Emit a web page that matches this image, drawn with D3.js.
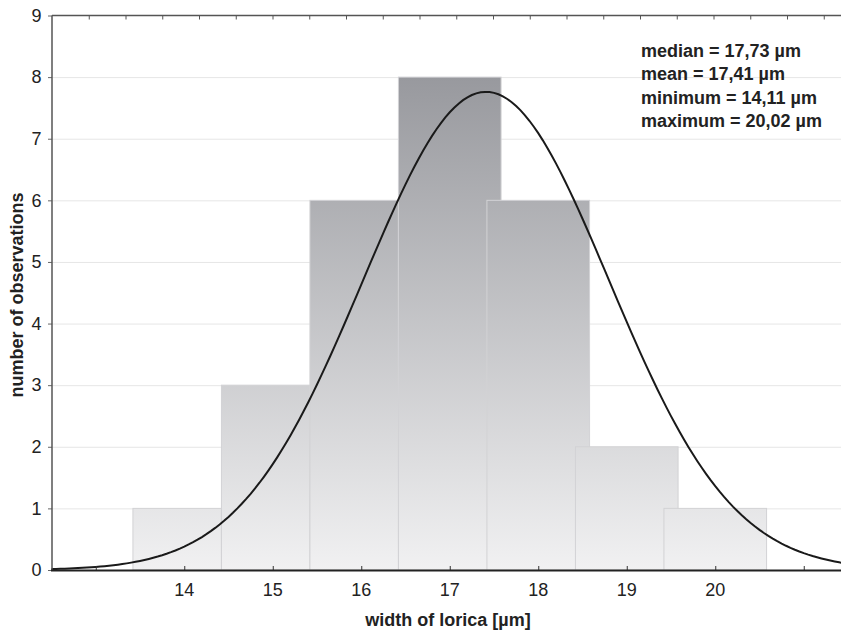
<!DOCTYPE html>
<html>
<head>
<meta charset="utf-8">
<script src="https://cdn.jsdelivr.net/npm/d3@7"></script>
<style>
  body { margin: 0; background: #fff; }
  text { font-family: "Liberation Sans", Arial, sans-serif; fill: #222; }
</style>
</head>
<body>
<script>
// histogram bins (µm) and counts
var binStart = [13.42, 14.42, 15.42, 16.42, 17.42, 18.42, 19.42];
var binEnd   = [14.42, 15.42, 16.42, 17.58, 18.58, 19.58, 20.58];
var counts   = [1, 3, 6, 8, 6, 2, 1];

var xTicks = [13, 14, 15, 16, 17, 18, 19, 20, 21];
var xLabels = ["", "14", "15", "16", "17", "18", "19", "20", ""];
var yTicks = [0, 1, 2, 3, 4, 5, 6, 7, 8, 9];

// fitted normal curve
var fitMean = 17.41, fitSd = 1.388, fitN = 27;

var stats = [
  "median = 17,73 µm",
  "mean = 17,41 µm",
  "minimum = 14,11 µm",
  "maximum = 20,02 µm"
];

var width = 841,
    height = 635;

var x = d3.scaleLinear().domain([12.5, 21.5]).range([51.5, 848]);
var y = d3.scaleLinear().domain([0, 9]).range([570, 15.5]);
// top border carries its own evenly spaced ticks
var xTop = d3.scaleLinear().domain([0, 22]).range([52, 52 + 22 * 36.75]);

var svg = d3.select("body").append("svg")
    .attr("width", width)
    .attr("height", height);

var grad = svg.append("defs").append("linearGradient")
    .attr("id", "barfill")
    .attr("gradientUnits", "userSpaceOnUse")
    .attr("x1", 0).attr("x2", 0)
    .attr("y1", y(8)).attr("y2", y(0));
grad.append("stop").attr("offset", "0%").attr("stop-color", "#98999e");
grad.append("stop").attr("offset", "100%").attr("stop-color", "#f1f1f2");

// grid
svg.append("g").selectAll("line")
    .data(yTicks.slice(1, 9))
  .enter().append("line")
    .attr("x1", x(12.5)).attr("x2", width)
    .attr("y1", function(d) { return y(d) + 0.5; })
    .attr("y2", function(d) { return y(d) + 0.5; })
    .attr("stroke", "#e6e6e6")
    .attr("stroke-width", 1);

// bars
svg.append("g").selectAll("rect")
    .data(counts)
  .enter().append("rect")
    .attr("x", function(d, i) { return x(binStart[i]); })
    .attr("width", function(d, i) { return x(binEnd[i]) - x(binStart[i]); })
    .attr("y", function(d) { return y(d); })
    .attr("height", function(d) { return y(0) - y(d); })
    .attr("fill", "url(#barfill)")
    .attr("stroke", "#d2d2d5")
    .attr("stroke-width", 1);

// normal curve
var curvePts = d3.range(12.5, 21.51, 0.05).map(function(v) {
  var z = (v - fitMean) / fitSd;
  return [v, fitN / (fitSd * Math.sqrt(2 * Math.PI)) * Math.exp(-0.5 * z * z)];
});
svg.append("path")
    .datum(curvePts)
    .attr("fill", "none")
    .attr("stroke", "#1a1a1a")
    .attr("stroke-width", 2)
    .attr("d", d3.line()
      .x(function(d) { return x(d[0]); })
      .y(function(d) { return y(d[1]); }));

// top border with inward ticks
var topAxis = svg.append("g")
    .attr("transform", "translate(0," + y(9) + ")")
    .call(d3.axisBottom(xTop).tickValues(d3.range(1, 22)).tickSize(4).tickFormat(""));
topAxis.select(".domain").remove();
topAxis.selectAll("line").attr("stroke", "#555");
svg.append("line")
    .attr("x1", 52).attr("x2", width)
    .attr("y1", y(9)).attr("y2", y(9))
    .attr("stroke", "#555").attr("stroke-width", 1.5);

// left axis
var yAxis = svg.append("g")
    .attr("transform", "translate(52,0)")
    .call(d3.axisLeft(y).tickValues(yTicks).tickSize(4).tickPadding(6.5));
yAxis.select(".domain").remove();
yAxis.selectAll("line").attr("stroke", "#666");
yAxis.selectAll("text").attr("font-size", 18)
    .style("font-family", "Liberation Sans, Arial, sans-serif").attr("fill", "#222");
svg.append("line")
    .attr("x1", 52).attr("x2", 52)
    .attr("y1", y(9)).attr("y2", y(0))
    .attr("stroke", "#555").attr("stroke-width", 1.5);

// bottom axis, ticks pointing inward
var xAxis = svg.append("g")
    .attr("transform", "translate(0," + y(0) + ")")
    .call(d3.axisTop(x).tickValues(xTicks).tickSize(4).tickFormat(""));
xAxis.select(".domain").remove();
xAxis.selectAll("line").attr("stroke", "#333");
svg.append("line")
    .attr("x1", 51).attr("x2", width)
    .attr("y1", y(0) + 0.5).attr("y2", y(0) + 0.5)
    .attr("stroke", "#222").attr("stroke-width", 2);

svg.append("g").selectAll("text")
    .data(xTicks)
  .enter().append("text")
    .attr("x", function(d) { return x(d); })
    .attr("y", 596)
    .attr("text-anchor", "middle")
    .attr("font-size", 18)
    .text(function(d, i) { return xLabels[i]; });

// axis titles
svg.append("text")
    .attr("x", 448).attr("y", 626)
    .attr("text-anchor", "middle")
    .attr("font-size", 18).attr("font-weight", "bold")
    .text("width of lorica [µm]");

svg.append("text")
    .attr("transform", "translate(23,295) rotate(-90)")
    .attr("text-anchor", "middle")
    .attr("font-size", 18).attr("font-weight", "bold")
    .text("number of observations");

// stats box
svg.append("g").selectAll("text")
    .data(stats)
  .enter().append("text")
    .attr("x", 641)
    .attr("y", function(d, i) { return 56.5 + i * 23.6; })
    .attr("font-size", 18).attr("font-weight", "bold")
    .text(function(d) { return d; });
</script>
</body>
</html>
